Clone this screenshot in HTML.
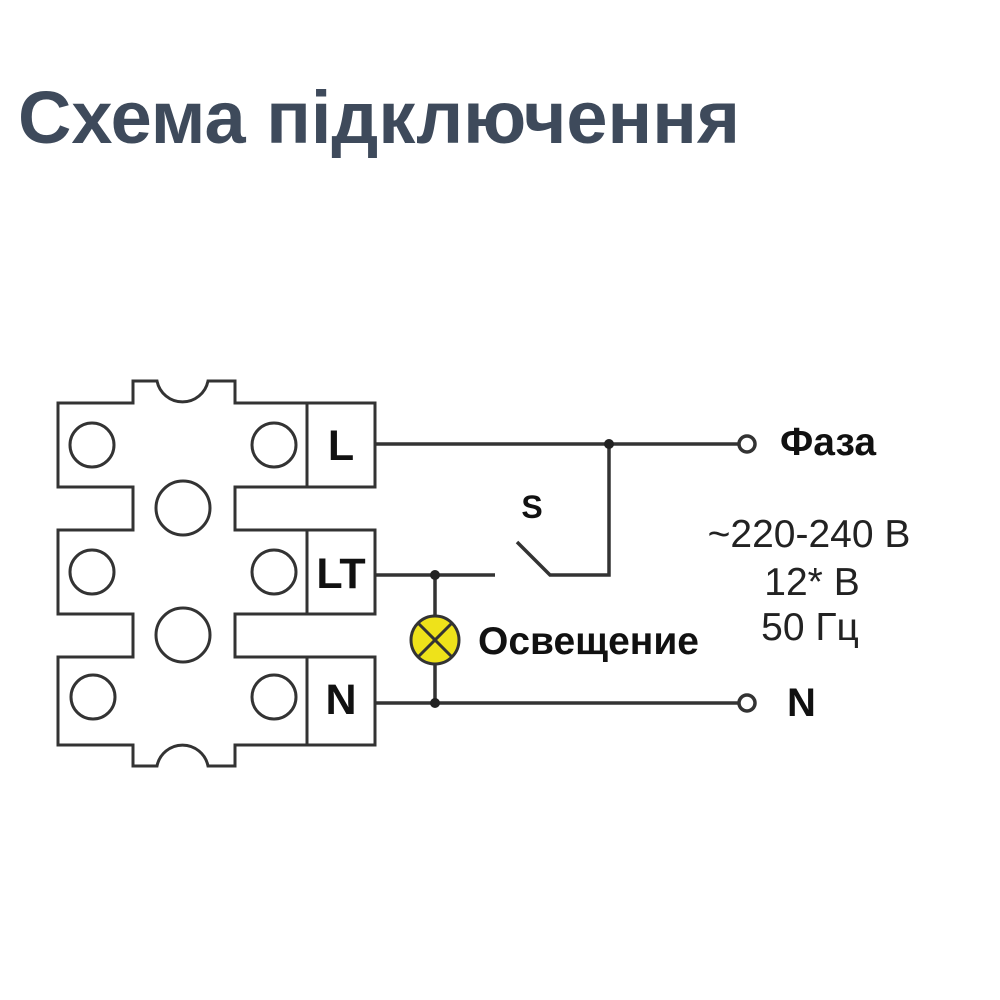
<!DOCTYPE html>
<html><head><meta charset="utf-8"><style>html,body{margin:0;padding:0;background:#fff}svg{display:block}</style></head>
<body>
<svg width="1000" height="1000" viewBox="0 0 1000 1000" xmlns="http://www.w3.org/2000/svg">
<rect width="1000" height="1000" fill="#fff"/>
<text x="18" y="143" font-family="Liberation Sans, sans-serif" font-size="74" font-weight="bold" fill="#3e4a5b" textLength="722" lengthAdjust="spacingAndGlyphs">Схема підключення</text>
<g fill="none" stroke="#333" stroke-width="3">
<path d="M58,403 H133 V381 H157 A26,26 0 0 0 208,381 H235 V403 H375 V487 H235 V530 H375 V614 H235 V657 H375 V745 H235 V766 H208 A26,26 0 0 0 157,766 H133 V745 H58 V657 H133 V614 H58 V530 H133 V487 H58 Z"/>
<line x1="307" y1="403" x2="307" y2="487"/>
<line x1="307" y1="530" x2="307" y2="614"/>
<line x1="307" y1="657" x2="307" y2="745"/>
<circle cx="92" cy="445" r="22"/><circle cx="274" cy="445" r="22"/>
<circle cx="92" cy="572" r="22"/><circle cx="274" cy="572" r="22"/>
<circle cx="93" cy="697" r="22"/><circle cx="274" cy="697" r="22"/>
<circle cx="183" cy="508" r="27"/><circle cx="183" cy="635" r="27"/>
</g>
<g fill="none" stroke="#333" stroke-width="3.5">
<line x1="375" y1="444" x2="739" y2="444"/>
<circle cx="747" cy="444" r="8"/>
<line x1="375" y1="575" x2="495" y2="575"/>
<path d="M517,542 L550,575 H609 V444"/>
<line x1="375" y1="703" x2="739" y2="703"/>
<circle cx="747" cy="703" r="8"/>
<line x1="435" y1="575" x2="435" y2="616"/>
<line x1="435" y1="664" x2="435" y2="703"/>
</g>
<g fill="#222"><circle cx="609" cy="444" r="5"/><circle cx="435" cy="575" r="5"/><circle cx="435" cy="703" r="5"/></g>
<circle cx="435" cy="640" r="24" fill="#eee21a" stroke="#333" stroke-width="3"/>
<g stroke="#333" stroke-width="3"><line x1="418" y1="623" x2="452" y2="657"/><line x1="452" y1="623" x2="418" y2="657"/></g>
<g font-family="Liberation Sans, sans-serif" font-weight="bold" fill="#111">
<text x="341" y="460" font-size="43" text-anchor="middle">L</text>
<text x="341" y="588" font-size="43" text-anchor="middle">LT</text>
<text x="341" y="714" font-size="43" text-anchor="middle">N</text>
<text x="532" y="518" font-size="32" text-anchor="middle">S</text>
<text x="478" y="654" font-size="39">Освещение</text>
<text x="780" y="455" font-size="39">Фаза</text>
<text x="787" y="716" font-size="40">N</text>
</g>
<g font-family="Liberation Sans, sans-serif" fill="#222" font-size="39" text-anchor="middle">
<text x="809" y="547">~220-240 В</text>
<text x="812" y="595">12* В</text>
<text x="810" y="640">50 Гц</text>
</g>
</svg>
</body></html>
